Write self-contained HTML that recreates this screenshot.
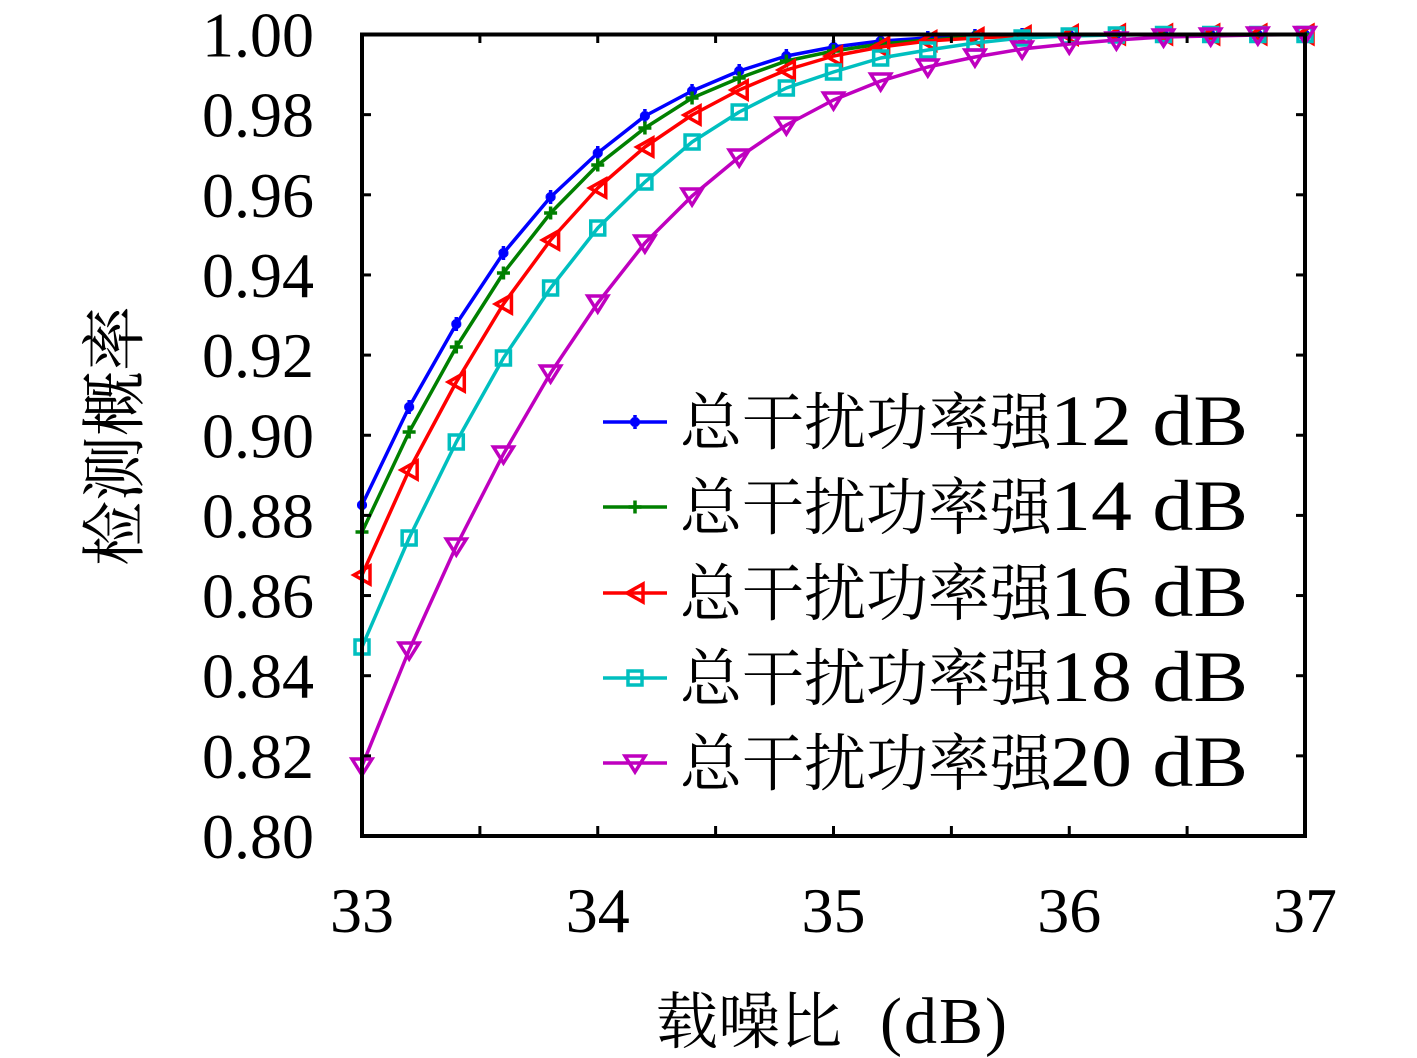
<!DOCTYPE html>
<html>
<head>
<meta charset="utf-8">
<style>
  html,body{margin:0;padding:0;background:#fff;}
  svg{display:block;}
  .tk{font-family:"Liberation Serif","Noto Serif CJK SC",serif;font-size:64px;fill:#000;}
  .cj{font-family:"Liberation Serif","Noto Serif CJK SC",serif;fill:#000;}
  .lt{font-family:"Liberation Serif",serif;fill:#000;}
</style>
</head>
<body>
<svg width="1417" height="1058" viewBox="0 0 1417 1058" xmlns="http://www.w3.org/2000/svg">
  <defs>
    <marker id="mb" markerUnits="userSpaceOnUse" viewBox="-12 -12 24 24" markerWidth="24" markerHeight="24" refX="0" refY="0" overflow="visible">
      <g stroke="#0000ff" stroke-width="3.5" fill="none">
        <line x1="0" y1="-7" x2="0" y2="7"/>
        <line x1="-5" y1="0" x2="5" y2="0"/>
        <line x1="-3.5" y1="-3.5" x2="3.5" y2="3.5"/>
        <line x1="-3.5" y1="3.5" x2="3.5" y2="-3.5"/>
      </g>
    </marker>
    <marker id="mg" markerUnits="userSpaceOnUse" viewBox="-12 -12 24 24" markerWidth="24" markerHeight="24" refX="0" refY="0" overflow="visible">
      <g stroke="#008000" stroke-width="3.5" fill="none">
        <line x1="0" y1="-6.5" x2="0" y2="6.5"/>
        <line x1="-6.5" y1="0" x2="6.5" y2="0"/>
      </g>
    </marker>
    <marker id="mr" markerUnits="userSpaceOnUse" viewBox="-12 -12 24 24" markerWidth="24" markerHeight="24" refX="0" refY="0" overflow="visible">
      <polygon points="-8,0 8,-9 8,9" stroke="#ff0000" stroke-width="3.5" fill="none" stroke-linejoin="miter"/>
    </marker>
    <marker id="mc" markerUnits="userSpaceOnUse" viewBox="-12 -12 24 24" markerWidth="24" markerHeight="24" refX="0" refY="0" overflow="visible">
      <rect x="-7" y="-7" width="14" height="14" stroke="#00bfbf" stroke-width="3.5" fill="none"/>
    </marker>
    <marker id="mm" markerUnits="userSpaceOnUse" viewBox="-12 -12 24 24" markerWidth="24" markerHeight="24" refX="0" refY="0" overflow="visible">
      <polygon points="-10,-7 10,-7 0,9" stroke="#bf00bf" stroke-width="3.5" fill="none"/>
    </marker>
  </defs>

  <!-- Series -->
  <g fill="none" stroke-width="3.5" stroke-linejoin="round">
    <polyline stroke="#0000ff" marker-start="url(#mb)" marker-mid="url(#mb)" marker-end="url(#mb)"
      points="362,505 409.15,407 456.3,324 503.45,253 550.6,197 597.75,153 644.9,116 692.05,91 739.2,71 786.35,56 833.5,47 880.65,41 927.8,38 974.95,36 1022.1,35 1069.25,34.5 1116.4,34.5 1163.55,34.5 1210.7,34.5 1257.85,34.5 1305,34.5"/>
    <polyline stroke="#008000" marker-start="url(#mg)" marker-mid="url(#mg)" marker-end="url(#mg)"
      points="362,532 409.15,432 456.3,347 503.45,273 550.6,213 597.75,165 644.9,128 692.05,98 739.2,78 786.35,61 833.5,51 880.65,44 927.8,40 974.95,37 1022.1,36 1069.25,35 1116.4,34.5 1163.55,34.5 1210.7,34.5 1257.85,34.5 1305,34.5"/>
    <polyline stroke="#ff0000" marker-start="url(#mr)" marker-mid="url(#mr)" marker-end="url(#mr)"
      points="362,575 409.15,470 456.3,382 503.45,304 550.6,240 597.75,188 644.9,147 692.05,115 739.2,90 786.35,70 833.5,56 880.65,47 927.8,41 974.95,38 1022.1,36 1069.25,35 1116.4,34.5 1163.55,34.5 1210.7,34.5 1257.85,34.5 1305,34.5"/>
    <polyline stroke="#00bfbf" marker-start="url(#mc)" marker-mid="url(#mc)" marker-end="url(#mc)"
      points="362,647 409.15,538 456.3,442 503.45,358 550.6,288 597.75,228 644.9,182 692.05,142 739.2,112 786.35,88 833.5,72 880.65,58 927.8,50 974.95,43 1022.1,38 1069.25,36 1116.4,35 1163.55,34.5 1210.7,34.5 1257.85,34.5 1305,34.5"/>
    <polyline stroke="#bf00bf" marker-start="url(#mm)" marker-mid="url(#mm)" marker-end="url(#mm)"
      points="362,766 409.15,650 456.3,546 503.45,454 550.6,373 597.75,303 644.9,243 692.05,196 739.2,157 786.35,125 833.5,100 880.65,81 927.8,67 974.95,57 1022.1,49 1069.25,44 1116.4,40 1163.55,37 1210.7,36 1257.85,35 1305,34.5"/>
  </g>

  <!-- Axes box -->
  <rect x="362" y="34.5" width="943" height="801.5" fill="none" stroke="#000" stroke-width="4"/>

  <!-- Ticks -->
  <g stroke="#000" stroke-width="3">
    <line x1="479.9" y1="836" x2="479.9" y2="826"/>
    <line x1="597.75" y1="836" x2="597.75" y2="826"/>
    <line x1="715.6" y1="836" x2="715.6" y2="826"/>
    <line x1="833.5" y1="836" x2="833.5" y2="826"/>
    <line x1="951.4" y1="836" x2="951.4" y2="826"/>
    <line x1="1069.25" y1="836" x2="1069.25" y2="826"/>
    <line x1="1187.1" y1="836" x2="1187.1" y2="826"/>
    <line x1="479.9" y1="34.5" x2="479.9" y2="43"/>
    <line x1="597.75" y1="34.5" x2="597.75" y2="43"/>
    <line x1="715.6" y1="34.5" x2="715.6" y2="43"/>
    <line x1="833.5" y1="34.5" x2="833.5" y2="43"/>
    <line x1="951.4" y1="34.5" x2="951.4" y2="43"/>
    <line x1="1069.25" y1="34.5" x2="1069.25" y2="43"/>
    <line x1="1187.1" y1="34.5" x2="1187.1" y2="43"/>
    <line x1="362" y1="114.65" x2="371" y2="114.65"/>
    <line x1="362" y1="194.8" x2="371" y2="194.8"/>
    <line x1="362" y1="274.95" x2="371" y2="274.95"/>
    <line x1="362" y1="355.1" x2="371" y2="355.1"/>
    <line x1="362" y1="435.25" x2="371" y2="435.25"/>
    <line x1="362" y1="515.4" x2="371" y2="515.4"/>
    <line x1="362" y1="595.55" x2="371" y2="595.55"/>
    <line x1="362" y1="675.7" x2="371" y2="675.7"/>
    <line x1="362" y1="755.85" x2="371" y2="755.85"/>
    <line x1="1305" y1="114.65" x2="1296" y2="114.65"/>
    <line x1="1305" y1="194.8" x2="1296" y2="194.8"/>
    <line x1="1305" y1="274.95" x2="1296" y2="274.95"/>
    <line x1="1305" y1="355.1" x2="1296" y2="355.1"/>
    <line x1="1305" y1="435.25" x2="1296" y2="435.25"/>
    <line x1="1305" y1="515.4" x2="1296" y2="515.4"/>
    <line x1="1305" y1="595.55" x2="1296" y2="595.55"/>
    <line x1="1305" y1="675.7" x2="1296" y2="675.7"/>
    <line x1="1305" y1="755.85" x2="1296" y2="755.85"/>
  </g>

  <!-- Y tick labels -->
  <g class="tk" text-anchor="end">
    <text x="314" y="56.5">1.00</text>
    <text x="314" y="136.65">0.98</text>
    <text x="314" y="216.8">0.96</text>
    <text x="314" y="296.95">0.94</text>
    <text x="314" y="377.1">0.92</text>
    <text x="314" y="457.25">0.90</text>
    <text x="314" y="537.4">0.88</text>
    <text x="314" y="617.55">0.86</text>
    <text x="314" y="697.7">0.84</text>
    <text x="314" y="777.85">0.82</text>
    <text x="314" y="858">0.80</text>
  </g>

  <!-- X tick labels -->
  <g class="tk" text-anchor="middle">
    <text x="362" y="932">33</text>
    <text x="597.75" y="932">34</text>
    <text x="833.5" y="932">35</text>
    <text x="1069.25" y="932">36</text>
    <text x="1305" y="932">37</text>
  </g>

  <!-- X label -->
  <text class="cj" x="656" y="1043" font-size="62">载噪比</text>
  <text class="lt" x="880" y="1043" font-size="66" textLength="127" lengthAdjust="spacing">(dB)</text>

  <!-- Y label -->
  <text class="cj" font-size="65" text-anchor="middle" transform="translate(137,436) rotate(-90)">检测概率</text>

  <!-- Legend -->
  <g stroke-width="3.5" fill="none">
    <polyline points="603,422 635,422 667,422" stroke="#0000ff" marker-mid="url(#mb)"/>
    <polyline points="603,507 635,507 667,507" stroke="#008000" marker-mid="url(#mg)"/>
    <polyline points="603,593 635,593 667,593" stroke="#ff0000" marker-mid="url(#mr)"/>
    <polyline points="603,678 635,678 667,678" stroke="#00bfbf" marker-mid="url(#mc)"/>
    <polyline points="603,763 635,763 667,763" stroke="#bf00bf" marker-mid="url(#mm)"/>
  </g>
  <g>
    <text class="cj" x="680" y="444" font-size="62">总干扰功率强</text>
    <text class="lt" x="1050" y="445" font-size="72" textLength="198" lengthAdjust="spacingAndGlyphs">12 dB</text>
    <text class="cj" x="680" y="529" font-size="62">总干扰功率强</text>
    <text class="lt" x="1050" y="530" font-size="72" textLength="198" lengthAdjust="spacingAndGlyphs">14 dB</text>
    <text class="cj" x="680" y="615" font-size="62">总干扰功率强</text>
    <text class="lt" x="1050" y="616" font-size="72" textLength="198" lengthAdjust="spacingAndGlyphs">16 dB</text>
    <text class="cj" x="680" y="700" font-size="62">总干扰功率强</text>
    <text class="lt" x="1050" y="701" font-size="72" textLength="198" lengthAdjust="spacingAndGlyphs">18 dB</text>
    <text class="cj" x="680" y="785" font-size="62">总干扰功率强</text>
    <text class="lt" x="1050" y="786" font-size="72" textLength="198" lengthAdjust="spacingAndGlyphs">20 dB</text>
  </g>
</svg>
</body>
</html>
